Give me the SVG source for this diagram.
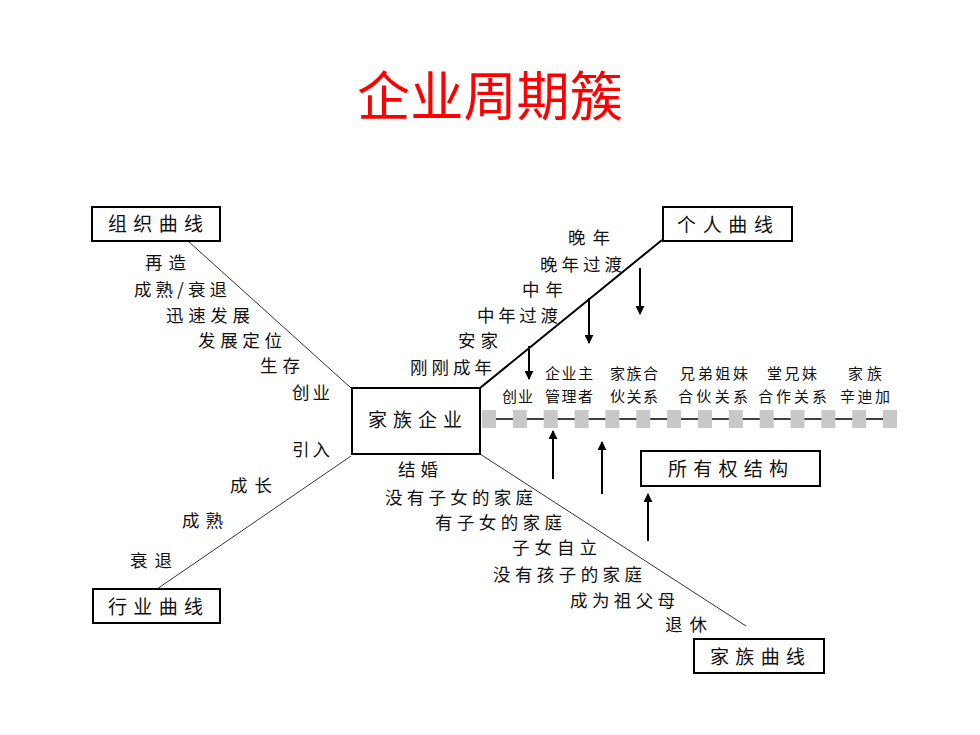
<svg xmlns="http://www.w3.org/2000/svg" width="980" height="735" viewBox="0 0 980 735">
<defs>
<style>
text{font-family:"Noto Sans CJK SC","Noto Sans",sans-serif;fill:#111;}
.t{font-size:17.5px;}
.s{font-size:15px;}
.b{font-size:19px;}
.title{font-size:53px;fill:#ff0000;}
.box{fill:#fff;stroke:#000;stroke-width:2;}
.thin{stroke:#333;stroke-width:1;fill:none;}
.thick{stroke:#000;stroke-width:2;fill:none;}
.arr{stroke:#000;stroke-width:2;fill:none;marker-end:url(#ah);}
.sq{fill:#c8c8c8;}
</style>
<marker id="ah" viewBox="0 0 10 10" refX="9" refY="5" markerWidth="4.5" markerHeight="4.5" orient="auto" markerUnits="strokeWidth">
<path d="M0,0 L10,5 L0,10 z" fill="#000"/>
</marker>
</defs>
<rect width="980" height="735" fill="#fff"/>
<text class="title" x="357" y="116" textLength="266" lengthAdjust="spacingAndGlyphs">企业周期簇</text>

<g id="connectors">
<line class="thin" x1="188" y1="241" x2="351" y2="388"/>
<line class="thick" x1="480" y1="388" x2="662" y2="240"/>
<line class="thin" x1="351" y1="456" x2="157" y2="589"/>
<line class="thin" x1="480" y1="454" x2="746" y2="626"/>
<line class="arr" x1="529" y1="346" x2="529" y2="379"/>
<line class="arr" x1="589" y1="298" x2="589" y2="343"/>
<line class="arr" x1="640" y1="268" x2="640" y2="314"/>
<line class="arr" x1="553" y1="479" x2="553" y2="431"/>
<line class="arr" x1="602" y1="494" x2="602" y2="442"/>
<line class="arr" x1="648" y1="541" x2="648" y2="494"/>
</g>

<g id="ownership-bar">
<line x1="482" y1="419" x2="897" y2="419" stroke="#000" stroke-width="1.5"/>
<rect class="sq" x="482" y="410" width="14" height="18"/>
<rect class="sq" x="512.9" y="410" width="14" height="18"/>
<rect class="sq" x="543.7" y="410" width="14" height="18"/>
<rect class="sq" x="574.6" y="410" width="14" height="18"/>
<rect class="sq" x="605.4" y="410" width="14" height="18"/>
<rect class="sq" x="636.3" y="410" width="14" height="18"/>
<rect class="sq" x="667.1" y="410" width="14" height="18"/>
<rect class="sq" x="698" y="410" width="14" height="18"/>
<rect class="sq" x="728.8" y="410" width="14" height="18"/>
<rect class="sq" x="759.7" y="410" width="14" height="18"/>
<rect class="sq" x="790.5" y="410" width="14" height="18"/>
<rect class="sq" x="821.4" y="410" width="14" height="18"/>
<rect class="sq" x="852.2" y="410" width="14" height="18"/>
<rect class="sq" x="883" y="410" width="14" height="18"/>
<text class="s" x="545" y="379" textLength="48">企业主</text>
<text class="s" x="610" y="379" textLength="48">家族合</text>
<text class="s" x="680" y="379" textLength="68">兄弟姐妹</text>
<text class="s" x="767" y="379" textLength="50">堂兄妹</text>
<text class="s" x="848" y="379" textLength="34">家族</text>
<text class="s" x="502" y="401.5" textLength="31">创业</text>
<text class="s" x="545" y="401.5" textLength="48">管理者</text>
<text class="s" x="610" y="401.5" textLength="48">伙关系</text>
<text class="s" x="678" y="401.5" textLength="70">合伙关系</text>
<text class="s" x="758" y="401.5" textLength="69">合作关系</text>
<text class="s" x="840" y="401.5" textLength="50">辛迪加</text>
</g>

<g id="org-curve">
<rect class="box" x="92" y="207" width="128" height="34"/>
<text class="b" x="108" y="231" textLength="95">组织曲线</text>
<text class="t" x="145" y="268.5" textLength="41">再造</text>
<text class="t" x="134" y="295.5" textLength="93">成熟/衰退</text>
<text class="t" x="166" y="321.5" textLength="84">迅速发展</text>
<text class="t" x="198" y="346.5" textLength="84">发展定位</text>
<text class="t" x="260" y="371.5" textLength="40">生存</text>
<text class="t" x="292" y="398.5" textLength="38">创业</text>
</g>

<g id="personal-curve">
<rect class="box" x="663" y="207" width="129" height="34"/>
<text class="b" x="677" y="232" textLength="96">个人曲线</text>
<text class="t" x="568" y="243.5" textLength="42">晚年</text>
<text class="t" x="540" y="270.5" textLength="82">晚年过渡</text>
<text class="t" x="522" y="295.5" textLength="41">中年</text>
<text class="t" x="477" y="321.5" textLength="81">中年过渡</text>
<text class="t" x="458" y="346.5" textLength="40">安家</text>
<text class="t" x="410" y="373.5" textLength="82">刚刚成年</text>
</g>

<g id="family-business">
<rect class="box" x="352" y="388" width="128" height="66"/>
<text class="b" x="368" y="427" textLength="94">家族企业</text>
</g>

<g id="ownership">
<rect class="box" x="641" y="451" width="179" height="35"/>
<text class="b" x="668" y="476" textLength="120">所有权结构</text>
</g>

<g id="family-curve">
<rect class="box" x="694" y="639" width="130" height="34"/>
<text class="b" x="710" y="664" textLength="95">家族曲线</text>
<text class="t" x="398" y="475.5" textLength="40">结婚</text>
<text class="t" x="385" y="503.5" textLength="148">没有子女的家庭</text>
<text class="t" x="435" y="528.5" textLength="127">有子女的家庭</text>
<text class="t" x="512" y="553.5" textLength="85">子女自立</text>
<text class="t" x="493" y="580.5" textLength="149">没有孩子的家庭</text>
<text class="t" x="570" y="606.5" textLength="105">成为祖父母</text>
<text class="t" x="665" y="630.5" textLength="42">退休</text>
</g>

<g id="industry-curve">
<rect class="box" x="93" y="589" width="127" height="34"/>
<text class="b" x="108" y="614" textLength="95">行业曲线</text>
<text class="t" x="292" y="455.5" textLength="38">引入</text>
<text class="t" x="230" y="491.5" textLength="42">成长</text>
<text class="t" x="182" y="526.5" textLength="41">成熟</text>
<text class="t" x="130" y="566.5" textLength="42">衰退</text>
</g>
</svg>
